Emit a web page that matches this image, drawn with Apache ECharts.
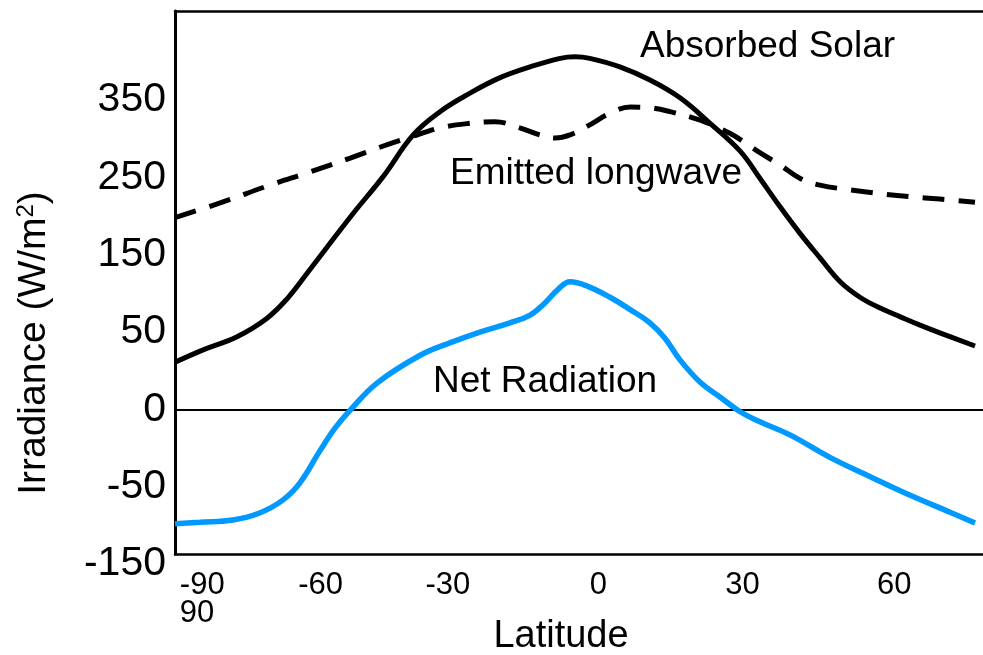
<!DOCTYPE html>
<html>
<head>
<meta charset="utf-8">
<title>Irradiance by latitude</title>
<script src="https://cdn.jsdelivr.net/npm/echarts@6/dist/echarts.min.js"></script>
<style>
  html, body { margin: 0; padding: 0; background: #fff; }
  #chart { width: 983px; height: 655px; }
</style>
</head>
<body>
<div id="chart"></div>
<script>
// y values are in axis "slots": each y tick label sits one slot above the previous
const yTickLabels = ['-150', '-50', '0', '50', '150', '250', '350'];
const yTickPos = [0, 1, 2, 3, 4, 5, 6];
// x tick labels sit where the figure puts them (not evenly spaced)
const xTickLabels = ['-90\n90', '-60', '-30', '0', '30', '60'];
const xTickPos = [-84.2, -59.0, -31.9, 0.1, 30.8, 63.1];
// level of the 0 W/m2 line
const zeroLevel = 1.86;

const solarLat = [-90, -84.0, -76.8, -70.4, -66.0, -62.0, -57.6, -52.0, -45.7, -39.3, -33.6, -27.2, -20.8, -14.4, -8.0, -4.9, -1.7, 4.7, 11.1, 17.5, 23.9, 30.3, 34.5, 38.8, 43.0, 47.3, 51.6, 55.8, 60.1, 64.3, 68.6, 72.8, 80.3];
const solarVal = [2.48, 2.64, 2.81, 3.05, 3.31, 3.62, 3.97, 4.41, 4.88, 5.42, 5.72, 5.96, 6.16, 6.30, 6.41, 6.43, 6.41, 6.30, 6.13, 5.90, 5.57, 5.21, 4.86, 4.49, 4.15, 3.83, 3.52, 3.32, 3.18, 3.07, 2.96, 2.86, 2.69];

const longwaveLat = [-90, -80.4, -69.8, -61.3, -52.7, -46.4, -40.0, -33.6, -27.2, -21.9, -16.6, -12.3, -9.1, -5.9, -1.7, 2.6, 6.9, 11.1, 15.4, 21.8, 28.1, 31.3, 34.5, 38.8, 43.0, 47.3, 53.7, 60.1, 66.5, 72.8, 80.3];
const longwaveVal = [4.35, 4.54, 4.77, 4.94, 5.12, 5.26, 5.39, 5.51, 5.57, 5.59, 5.51, 5.42, 5.38, 5.42, 5.55, 5.70, 5.78, 5.77, 5.72, 5.61, 5.44, 5.32, 5.19, 5.03, 4.86, 4.77, 4.71, 4.66, 4.62, 4.59, 4.55];

const netLat = [-90, -84.7, -77.7, -72.0, -67.0, -63.4, -59.1, -55.9, -52.7, -47.0, -37.8, -31.5, -25.1, -18.7, -14.4, -11.2, -8.5, -5.9, -2.5, 2.6, 6.9, 11.1, 14.3, 17.5, 21.8, 26.0, 30.3, 34.5, 40.9, 49.4, 58.0, 66.5, 75.0, 80.3];
const netVal = [0.39, 0.41, 0.44, 0.53, 0.70, 0.92, 1.34, 1.63, 1.86, 2.21, 2.57, 2.73, 2.87, 2.99, 3.09, 3.25, 3.42, 3.52, 3.47, 3.32, 3.16, 2.99, 2.79, 2.51, 2.22, 2.03, 1.84, 1.71, 1.54, 1.25, 1.00, 0.76, 0.54, 0.40];

const FONT = '"Liberation Sans", Arial, sans-serif';

function pairs(xs, ys) {
  return xs.map((x, i) => [x, ys[i]]);
}

const chart = echarts.init(document.getElementById('chart'));

const option = {
  animation: false,
  backgroundColor: '#fff',
  textStyle: { fontFamily: FONT, color: '#000' },
  grid: { left: 175, right: 0, top: 11, bottom: 101 },
  xAxis: [
    {
      type: 'value',
      min: -90,
      max: 82,
      position: 'bottom',
      axisLine: { show: true, onZero: false, lineStyle: { color: '#000', width: 2.5 } },
      axisTick: { show: false },
      splitLine: { show: false },
      axisLabel: {
        customValues: xTickPos,
        margin: 17,
        fontSize: 31,
        lineHeight: 28,
        color: '#000',
        formatter: function (value) {
          const i = xTickPos.findIndex((p) => Math.abs(p - value) < 1e-6);
          if (i < 0) return '';
          return xTickLabels[i].split('\n').map((s) => '{t|' + s + '}').join('\n');
        },
        rich: {
          t: { fontSize: 31, lineHeight: 28, align: 'left', color: '#000', fontFamily: FONT },
        },
      },
    },
    {
      // top frame line
      type: 'value',
      min: -90,
      max: 82,
      position: 'top',
      axisLine: { show: true, onZero: false, lineStyle: { color: '#000', width: 2.5 } },
      axisTick: { show: false },
      axisLabel: { show: false },
      splitLine: { show: false },
    },
  ],
  yAxis: {
    type: 'value',
    min: 0,
    max: 7.022,
    axisLine: { show: true, onZero: false, lineStyle: { color: '#000', width: 3 } },
    axisTick: { show: false },
    splitLine: { show: false },
    axisLabel: {
      customValues: yTickPos,
      fontSize: 41,
      color: '#000',
      margin: 9,
      // labels sit a little below their slot in the figure
      verticalAlign: 'top',
      lineHeight: 20,
      formatter: function (value) {
        return yTickLabels[Math.round(value)];
      },
    },
  },
  series: [
    {
      name: 'Absorbed Solar',
      type: 'line',
      data: pairs(solarLat, solarVal),
      smooth: 0.4,
      symbol: 'none',
      lineStyle: { color: '#000', width: 5 },
      z: 3,
      markLine: {
        silent: true,
        symbol: 'none',
        label: { show: false },
        lineStyle: { color: '#000', width: 1.8, type: 'solid' },
        data: [{ yAxis: zeroLevel }],
        z: 1,
      },
    },
    {
      name: 'Emitted longwave',
      type: 'line',
      data: pairs(longwaveLat, longwaveVal),
      smooth: 0.4,
      symbol: 'none',
      lineStyle: { color: '#000', width: 5, type: [22, 14], cap: 'butt' },
      z: 3,
    },
    {
      name: 'Net Radiation',
      type: 'line',
      data: pairs(netLat, netVal),
      smooth: 0.4,
      symbol: 'none',
      lineStyle: { color: '#0099ff', width: 5.5 },
      z: 4,
    },
  ],
  graphic: [
    {
      type: 'text', x: 640, y: 47,
      style: { text: 'Absorbed Solar', font: '37px ' + FONT, fill: '#000', align: 'left', textAlign: 'left', verticalAlign: 'middle', textVerticalAlign: 'middle' },
    },
    {
      type: 'text', x: 450, y: 174,
      style: { text: 'Emitted longwave', font: '37px ' + FONT, fill: '#000', align: 'left', textAlign: 'left', verticalAlign: 'middle', textVerticalAlign: 'middle' },
    },
    {
      type: 'text', x: 433, y: 382,
      style: { text: 'Net Radiation', font: '37px ' + FONT, fill: '#000', align: 'left', textAlign: 'left', verticalAlign: 'middle', textVerticalAlign: 'middle' },
    },
    {
      type: 'text', x: 561, y: 637,
      style: { text: 'Latitude', font: '38px ' + FONT, fill: '#000', align: 'center', textAlign: 'center', verticalAlign: 'middle', textVerticalAlign: 'middle' },
    },
    {
      type: 'text', x: 34, y: 343, rotation: Math.PI / 2,
      style: {
        text: 'Irradiance (W/m{sup|2})',
        font: '39px ' + FONT,
        fill: '#000',
        align: 'center', textAlign: 'center',
        verticalAlign: 'middle', textVerticalAlign: 'middle',
        rich: {
          sup: { font: '24px ' + FONT, fill: '#000', verticalAlign: 'top' },
        },
      },
    },
  ],
};

chart.setOption(option);
</script>
</body>
</html>
